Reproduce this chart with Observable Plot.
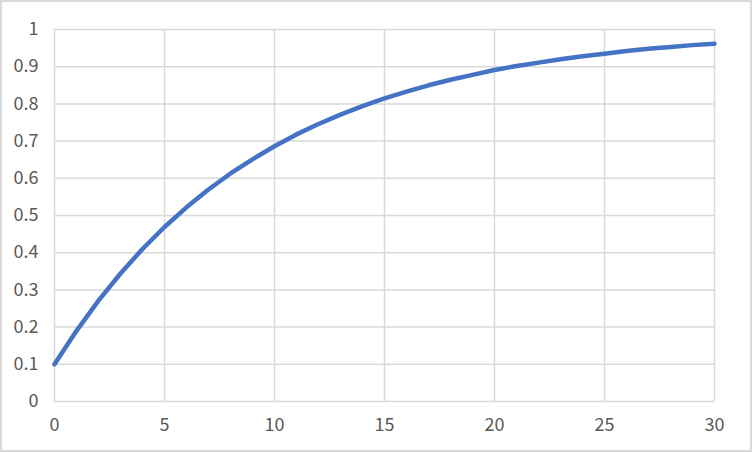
<!DOCTYPE html>
<html>
<head>
<meta charset="utf-8">
<script src="https://cdn.jsdelivr.net/npm/d3@7"></script>
<script src="https://cdn.jsdelivr.net/npm/@observablehq/plot@0.6"></script>
<style>
  html, body { margin: 0; padding: 0; background: #fff; }
  #wrap { position: relative; width: 752px; height: 452px; }
  #wrap svg { position: absolute; left: 0; top: 0; }
  #border { position: absolute; left: 0; top: 0; width: 752px; height: 452px; box-sizing: border-box; border: 2px solid #d9d9d9; pointer-events: none; }
</style>
</head>
<body>
<div id="wrap"><div id="border"></div></div>
<script>
const xValues = [0,1,2,3,4,5,6,7,8,9,10,11,12,13,14,15,16,17,18,19,20,21,22,23,24,25,26,27,28,29,30];
const yValues = [0.1,0.19,0.271,0.344,0.41,0.469,0.522,0.57,0.613,0.651,0.686,0.718,0.746,0.771,0.794,0.815,0.833,0.85,0.865,0.878,0.891,0.902,0.911,0.92,0.928,0.935,0.942,0.948,0.953,0.958,0.962];
const xTicks = [0,5,10,15,20,25,30];
const yTicks = [0,0.1,0.2,0.3,0.4,0.5,0.6,0.7,0.8,0.9,1];

const data = xValues.map((x, i) => ({x, y: yValues[i]}));

const chart = Plot.plot({
  width: 752,
  height: 452,
  marginLeft: 54,
  marginRight: 38,
  marginTop: 29,
  marginBottom: 51,
  style: {fontFamily: "'Noto Sans CJK JP', 'Liberation Sans', sans-serif", fontSize: "18px", color: "#595959", background: "transparent"},
  x: {domain: [0, 30]},
  y: {domain: [0, 1]},
  marks: [
    Plot.gridX(xTicks, {stroke: "#d9d9d9", strokeOpacity: 1, strokeWidth: 1.5}),
    Plot.gridY(yTicks, {stroke: "#d9d9d9", strokeOpacity: 1, strokeWidth: 1.5}),
    Plot.axisX({ticks: xTicks, tickSize: 0, tickPadding: 17, label: null, fill: "#595959", fontSize: 18, tickFormat: d => String(d)}),
    Plot.axisY({ticks: yTicks, tickSize: 0, tickPadding: 16, label: null, fill: "#595959", fontSize: 18, tickFormat: d => String(+d.toFixed(1))}),
    Plot.line(data, {x: "x", y: "y", stroke: "#4472C4", strokeWidth: 4.5, strokeLinejoin: "round", strokeLinecap: "round"})
  ]
});
document.getElementById("wrap").prepend(chart);
</script>
</body>
</html>
